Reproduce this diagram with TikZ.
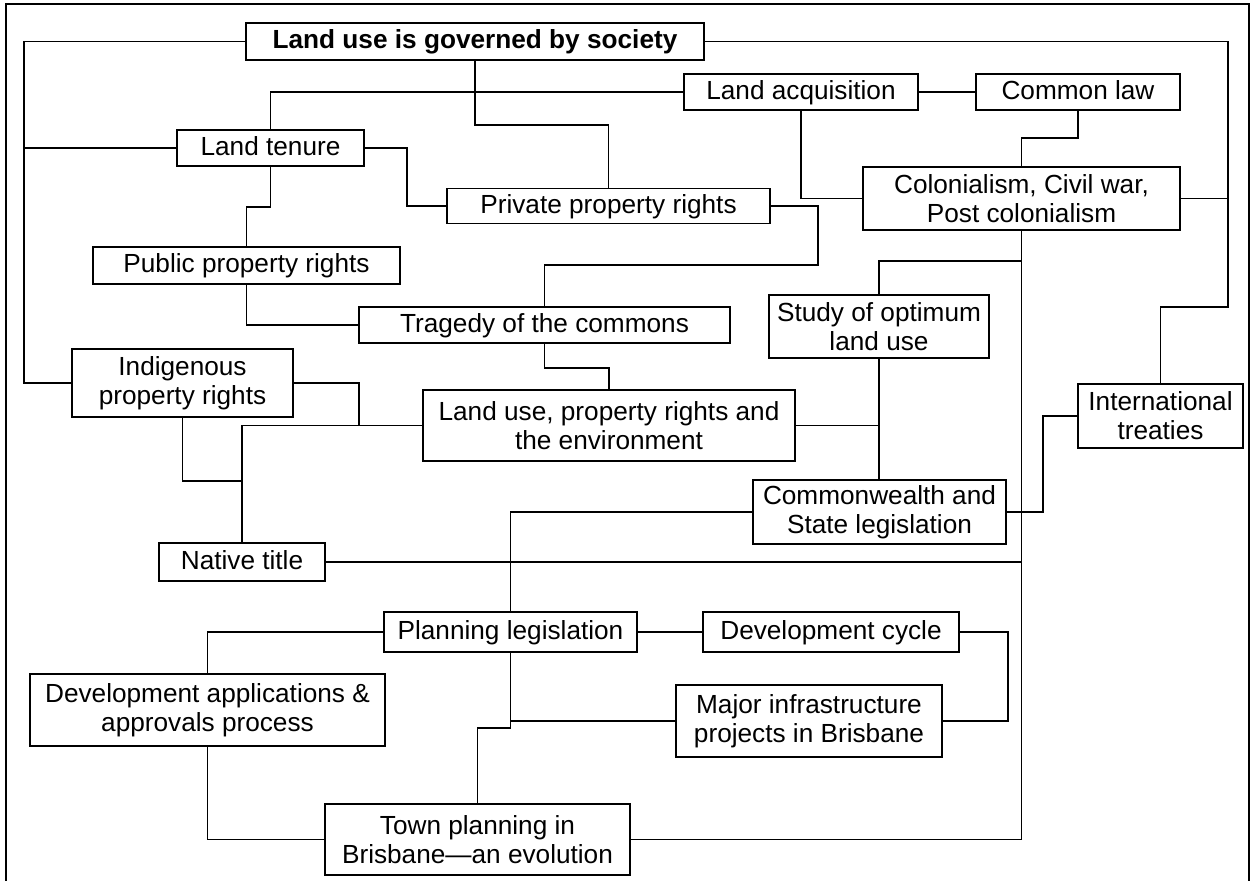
\documentclass[tikz,border=0pt]{standalone}
\usepackage{fontspec}
\setmainfont{Liberation Sans}
\usetikzlibrary{positioning, calc}
\tikzset{
  box/.style  = {draw, rectangle, align=center, inner sep=1pt,
                 line width=0.9pt, font=\fontsize{13.1}{14.5}\selectfont},
  one/.style  = {box, minimum height=18pt, text height=9.6pt, text depth=2.3pt},
  two/.style  = {box, minimum height=32pt},
  link/.style = {line width=0.9pt}
}

\begin{document}
\begin{tikzpicture}[x=0.5pt, y=-0.5pt]

  \useasboundingbox (0,0) rectangle (1252,881);

  % ── Frame (open at the bottom) ────────────────────────────────────────────
  \draw[link] (6,881) -- (6,4) -- (1249,4) -- (1249,881);

  % ── Top row ──────────────────────────────────────────────────────────────
  \node[one, minimum width=229pt, minimum height=18.5pt, font=\fontsize{13.1}{14.5}\selectfont\bfseries]
        (Title) at (475,41.5) {Land use is governed by society};
  \node[one, minimum width=117pt]   (Acq)       at (801,92)   {Land acquisition};
  \node[one, minimum width=102pt]   (CommonLaw) at (1078,92)  {Common law};
  \node[one, minimum width=93.5pt]  (Tenure)    at (270.5,148) {Land tenure};
  \node[one, minimum width=161.5pt, minimum height=17.5pt]
        (Private)   at (608.5,206) {Private property rights};
  \node[two, minimum width=158.5pt, minimum height=31.5pt]
        (Colonial)  at (1021.5,198.5) {Colonialism, Civil war,\\ Post colonialism};

  % ── Middle ───────────────────────────────────────────────────────────────
  \node[one, minimum width=153.5pt, minimum height=18.5pt]
        (Public)    at (246.5,265.5) {Public property rights};
  \node[one, minimum width=185.5pt] (Tragedy)   at (544.5,325) {Tragedy of the commons};
  \node[two, minimum width=110pt, minimum height=31.5pt]
        (Study)     at (879,326.5) {Study of optimum\\ land use};
  \node[two, minimum width=110.5pt, minimum height=34pt]
        (Indig)     at (182.5,383) {Indigenous\\ property rights};
  \node[two, minimum width=186pt, minimum height=35.5pt]
        (LandUse)   at (609,425.5) {Land use, property rights and\\ the environment};
  \node[two, minimum width=82.5pt]  (Treaties)  at (1160.5,416) {International\\ treaties};
  \node[two, minimum width=126.5pt] (Cwlth)     at (879.5,512) {Commonwealth and\\ State legislation};
  \node[one, minimum width=83pt, minimum height=19pt]
        (Native)    at (242,562) {Native title};

  % ── Planning ─────────────────────────────────────────────────────────────
  \node[one, minimum width=126.5pt, minimum height=20pt]
        (Planning)  at (510.5,632) {Planning legislation};
  \node[one, minimum width=128pt, minimum height=20pt]
        (DevCycle)  at (831,632) {Development cycle};
  \node[two, minimum width=177.5pt, minimum height=36pt]
        (DevApps)   at (207.5,710) {Development applications \&\\ approvals process};
  \node[two, minimum width=133pt, minimum height=36pt]
        (Major)     at (809,721) {Major infrastructure\\ projects in Brisbane};
  \node[two, minimum width=152.5pt, minimum height=35.5pt]
        (Town)      at (477.5,839.5) {Town planning in\\ Brisbane—an evolution};

  % ── Connections ───────────────────────────────────────────────────────────
  \coordinate (RailL) at (24,41.5);
  \coordinate (RailR) at (1228,41.5);

  % left and right rails from the title
  \draw[link] (Title.west) -- (RailL) |- (Indig.west);
  \draw[link] (Tenure.west) -- (Tenure.west -| RailL);
  \draw[link] (Title.east) -- (RailR) -- ++(0,265.5) -| (Treaties.north);
  \draw[link] (Colonial.east) -- (Colonial.east -| RailR);

  % title, acquisition, common law, colonialism
  \draw[link] (Title.south) -- ++(0,64) -| (Private.north);
  \draw[link] (Acq.west) -| (Tenure.north);
  \draw[link] (Acq.east) -- (CommonLaw.west);
  \draw[link] (Acq.south) |- (Colonial.west);
  \draw[link] (CommonLaw.south) -- ++(0,27) -| (Colonial.north);

  % tenure, public, private, tragedy
  \draw[link] (Tenure.east) -- ++(42,0) |- (Private.west);
  \draw[link] (Tenure.south) -- ++(0,40) -| (Public.north);
  \draw[link] (Public.south) |- (Tragedy.west);
  \draw[link] (Private.east) -- ++(47,0) -- ++(0,59) -| (Tragedy.north);
  \draw[link] (Tragedy.south) -- ++(0,24) -| (LandUse.north);

  % indigenous, native title, land use
  \draw[link] (Indig.east) -- ++(65,0) |- (LandUse.west);
  \draw[link] (Native.north) |- (LandUse.west);
  \draw[link] (Indig.south) -- ++(0,63) -| (Native.north);
  \draw[link] (LandUse.east) -- (LandUse.east -| Study.south);
  \draw[link] (Study.south) -- (Study.south |- Cwlth.north);

  % colonialism trunk
  \draw[link] (Colonial.south) |- (Town.east);
  \draw[link] (Study.north) -- ++(0,-33) -| (Colonial.south);
  \draw[link] (Native.east) -- (Native.east -| Colonial.south);
  \draw[link] (Cwlth.east) -- ++(36,0) |- (Treaties.west);

  % planning
  \draw[link] (Cwlth.west) -| (Planning.north);
  \draw[link] (Planning.west) -| (DevApps.north);
  \draw[link] (Planning.east) -- (DevCycle.west);
  \draw[link] (DevCycle.east) -- ++(48,0) |- (Major.east);
  \draw[link] (Planning.south) |- (Major.west);
  \draw[link] (Planning.south) -- ++(0,75) -| (Town.north);
  \draw[link] (DevApps.south) |- (Town.west);

\end{tikzpicture}
\end{document}
